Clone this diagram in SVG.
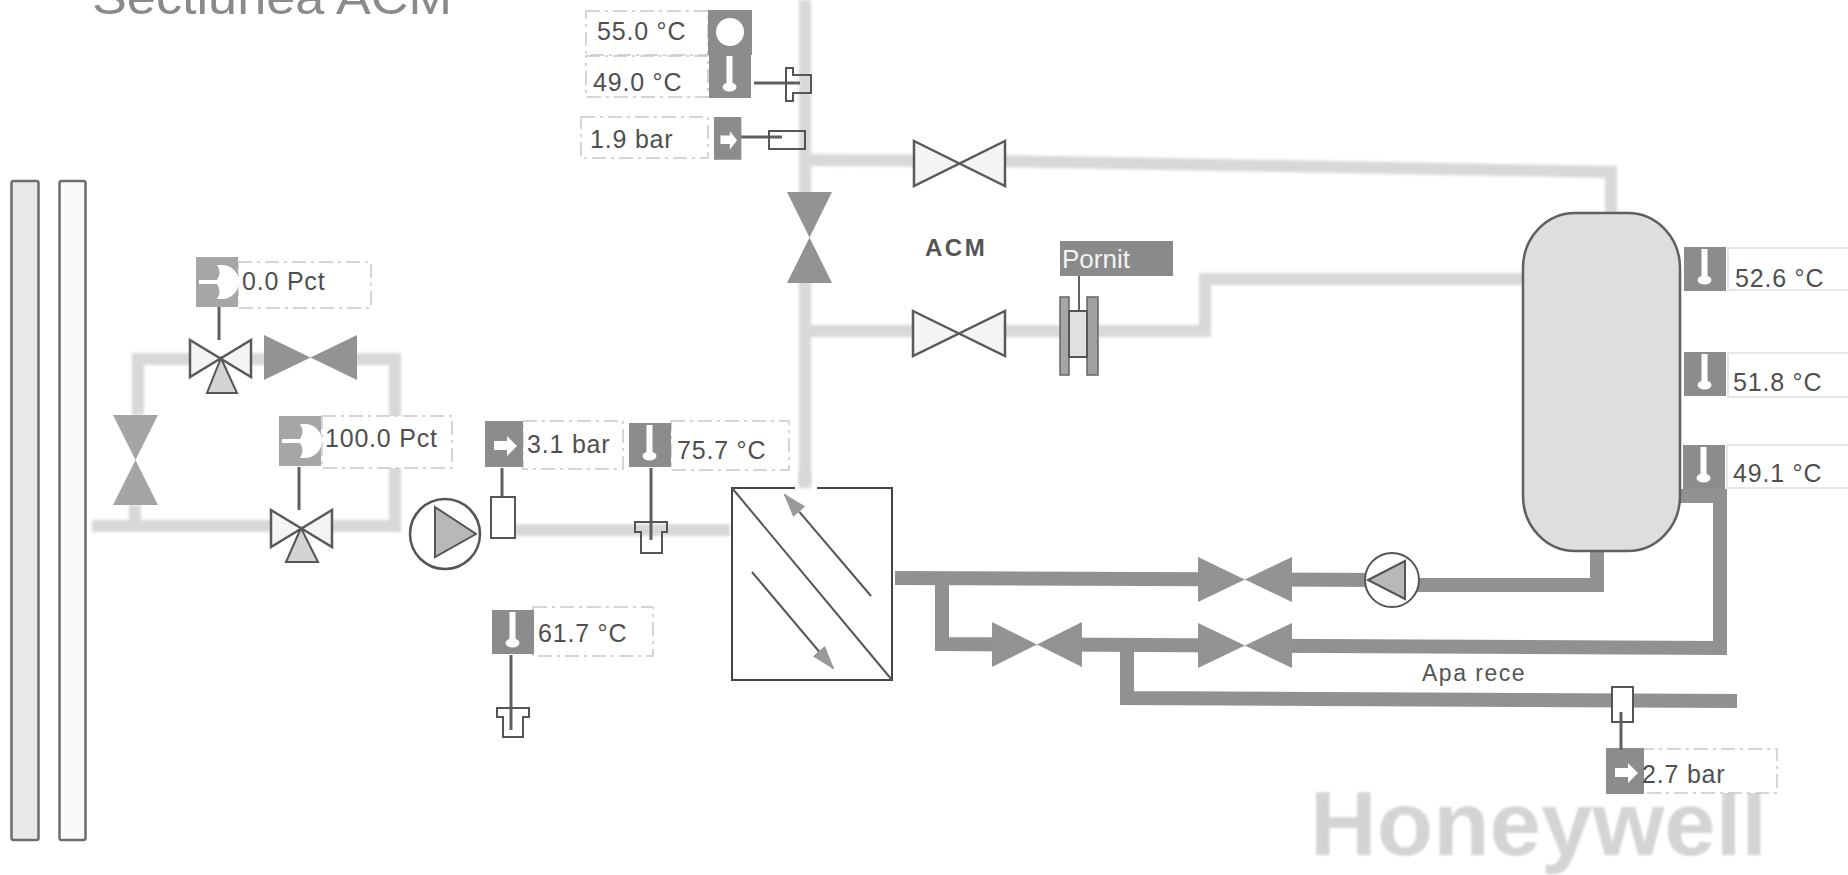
<svg xmlns="http://www.w3.org/2000/svg" width="1848" height="875" viewBox="0 0 1848 875">
<style>
text{font-family:"Liberation Sans",Arial,sans-serif}
.val{font-size:25px;fill:#4f4f4f;letter-spacing:.8px}
.box{fill:#fff;stroke:#c8c8c8;stroke-width:1.500;stroke-dasharray:14 5 3 5}
.lp{fill:none;stroke:#d8d8d8;stroke-width:12;filter:url(#soft)}
.dp{fill:none;stroke:#919191;stroke-width:14;filter:url(#soft1)}
.ol{fill:none;stroke:#555;stroke-width:2}
.olv{fill:#f4f4f4;stroke:#5a5a5a;stroke-width:2.500}
.dv{fill:#939393}
.mv{fill:#a4a4a4}
.bg{fill:#fff}
.wire{fill:none;stroke:#606060;stroke-width:3}
.ic{fill:#8c8c8c}
.icw{fill:#fff}
</style>
<defs>
<filter id="soft" filterUnits="userSpaceOnUse" x="0" y="0" width="1848" height="875"><feGaussianBlur stdDeviation="1.6"/></filter>
<filter id="soft1" filterUnits="userSpaceOnUse" x="0" y="0" width="1848" height="875"><feGaussianBlur stdDeviation="0.7"/></filter>
<filter id="soft2" filterUnits="userSpaceOnUse" x="0" y="0" width="1848" height="875"><feGaussianBlur stdDeviation="1.2"/></filter>
<g id="thermo"><rect class="ic" width="42" height="44"/><rect class="icw" x="17.500" y="2" width="6" height="30"/><ellipse class="icw" cx="20.500" cy="33" rx="7" ry="4.500"/></g>
<g id="press"><rect class="ic" width="38" height="46"/><path class="icw" d="M32 25 L22 15 L22 20 L9 20 L9 29 L22 29 L22 35 Z"/></g>
<g id="pct"><rect fill="#a6a6a6" width="42" height="50"/><path class="icw" d="M3 23 H21 A12 13 0 0 0 21 8 H26 A17 17 0 0 1 26 42 H21 A12 13 0 0 0 21 27 H3 Z"/></g>
<marker id="gh" markerWidth="24" markerHeight="16" refX="22" refY="8" orient="auto" markerUnits="userSpaceOnUse"><path d="M0 0 L24 8 L0 16 Z" fill="#9a9a9a"/></marker>
</defs>

<rect width="1848" height="875" fill="#fff"/>
<text x="92" y="14" font-size="48" fill="#8a8a8a" textLength="360" lengthAdjust="spacingAndGlyphs">Sectiunea ACM</text>

<g id="connectors">
<path class="lp" d="M805 0 V488"/>
<path class="lp" d="M805 160 L1000 161 L1611 172 V215"/>
<path class="lp" d="M805 331 H1205 V279 H1525"/>
<path class="lp" d="M92 526 H395 V359 H138 V415"/>
<path class="lp" d="M135 505 V526"/>
<path class="lp" d="M515 530 H730"/>
<path class="dp" d="M895 578 L1390 580"/>
<path class="dp" d="M1400 585 H1597 V551"/>
<path class="dp" d="M942 578 V644 L1720 648 V496 H1680"/>
<path class="dp" d="M1127 645 V698 L1737 701"/>
<path class="wire" d="M754 83 H800"/>
<path class="wire" d="M741 137 H782"/>
<path class="wire" d="M219 307 V358"/>
<path class="wire" d="M299 467 V524"/>
<path class="wire" d="M502 468 V510"/>
<path class="wire" d="M651 468 V540"/>
<path class="wire" d="M511 655 V730"/>
<path d="M1079 276 V311" fill="none" stroke="#606060" stroke-width="2"/>
</g>

<g id="strip-1"><rect x="11.500" y="181" width="27" height="659" rx="2" fill="#e9e9e9" stroke="#6e6e6e" stroke-width="2.500"/></g>
<g id="strip-2"><rect x="59.500" y="181" width="26" height="659" rx="2" fill="#fafafa" stroke="#6e6e6e" stroke-width="2.500"/></g>

<g id="t-55"><rect class="box" x="586" y="11" width="122" height="44"/><text class="val" x="597" y="40">55.0 °C</text><rect class="ic" x="708" y="10" width="44" height="45"/><circle class="icw" cx="730" cy="32" r="14"/></g>
<g id="t-49"><rect class="box" x="586" y="56" width="122" height="41"/><text class="val" x="593" y="91">49.0 °C</text><use href="#thermo" x="709" y="54"/><path class="ol" d="M786 68 H793 V75 H811 V93 H793 V101 H786 Z"/></g>
<g id="p-19"><rect class="box" x="581" y="117" width="127" height="41"/><text class="val" x="590" y="148">1.9 bar</text><use href="#press" transform="translate(714 117) scale(.72 .93)"/><rect x="769" y="131" width="36" height="18" fill="none" stroke="#555" stroke-width="2"/></g>

<g id="v-top"><rect class="bg" x="914" y="141" width="91" height="45"/><path class="olv" d="M914 141 L1005 186 V141 L914 186 Z"/></g>
<g id="v-vert"><rect class="bg" x="787" y="192" width="45" height="91"/><path class="dv" d="M787 192 H832 L787 283 H832 Z"/></g>
<g id="v-lower"><rect class="bg" x="913" y="311" width="92" height="45"/><path class="olv" d="M913 311 L1005 356 V311 L913 356 Z"/></g>

<g id="acm-label"><text x="925" y="256" font-size="24" font-weight="bold" fill="#555" letter-spacing="2.500">ACM</text></g>

<g id="pornit"><rect x="1060" y="241" width="113" height="35" fill="#8a8a8a"/><text x="1062" y="268" font-size="26" fill="#f2f2f2">Pornit</text>
<rect x="1060" y="297" width="9" height="78" fill="#a6a6a6" stroke="#666" stroke-width="1.500"/><rect x="1087" y="297" width="11" height="78" fill="#a0a0a0" stroke="#666" stroke-width="1.500"/><rect x="1069" y="311" width="18" height="46" fill="#e0e0e0" stroke="#555" stroke-width="2"/></g>

<g id="tank"><rect x="1523" y="213" width="157" height="338" rx="52" ry="55" fill="#dedede" stroke="#606060" stroke-width="2.500"/></g>
<g id="t-526"><rect x="1728" y="248" width="125" height="42" fill="#fff" stroke="#dedede" stroke-width="1.500"/><use href="#thermo" x="1684" y="247"/><text class="val" x="1735" y="287">52.6 °C</text></g>
<g id="t-518"><rect x="1728" y="353" width="125" height="44" fill="#fff" stroke="#dedede" stroke-width="1.500"/><use href="#thermo" x="1684" y="352"/><text class="val" x="1733" y="391">51.8 °C</text></g>
<g id="t-491"><rect x="1727" y="445" width="125" height="43" fill="#fff" stroke="#dedede" stroke-width="1.500"/><use href="#thermo" x="1683" y="445"/><text class="val" x="1733" y="482">49.1 °C</text></g>

<g id="v-left-top"><rect class="bg" x="190" y="340" width="61" height="37"/><path class="olv" d="M190 340 L251 377 V340 L190 377 Z"/><path d="M221 358 L207 393 H237 Z" fill="#d4d4d4" stroke="#555" stroke-width="2"/></g>
<g id="v-dark-top"><rect class="bg" x="264" y="335" width="93" height="45"/><path class="dv" d="M264 335 L357 380 V335 L264 380 Z"/></g>
<g id="v-left-vert"><rect class="bg" x="113" y="415" width="45" height="90"/><path class="mv" d="M113 415 H158 L113 505 H158 Z"/></g>
<g id="v-left-low"><rect class="bg" x="271" y="510" width="61" height="37"/><path class="olv" d="M271 510 L332 547 V510 L271 547 Z"/><path d="M301 528 L286 562 H318 Z" fill="#d4d4d4" stroke="#555" stroke-width="2"/></g>
<g id="pct-0"><rect class="box" x="238" y="262" width="133" height="46"/><use href="#pct" x="196" y="257"/><text class="val" x="242" y="290">0.0 Pct</text></g>
<g id="pct-100"><rect class="box" x="322" y="416" width="130" height="52"/><use href="#pct" x="279" y="416"/><text class="val" x="325" y="447">100.0 Pct</text></g>

<g id="pump-1"><circle cx="445" cy="534" r="35" fill="#fff" stroke="#555" stroke-width="2.500"/><path d="M435 507 L476 534 L435 557 Z" fill="#b8b8b8" stroke="#555" stroke-width="2"/></g>

<g id="p-31"><rect class="box" x="523" y="421" width="100" height="48"/><use href="#press" x="485" y="421"/><text class="val" x="527" y="453">3.1 bar</text><rect x="491" y="497" width="24" height="41" fill="#fff" stroke="#555" stroke-width="2"/></g>
<g id="t-757"><rect class="box" x="671" y="421" width="118" height="49"/><use href="#thermo" x="629" y="423"/><text class="val" x="677" y="459">75.7 °C</text><path d="M635 522 H667 V532 H662 V553 H641 V532 H635 Z" fill="none" stroke="#555" stroke-width="2"/></g>
<g id="t-617"><rect class="box" x="533" y="607" width="120" height="49"/><use href="#thermo" x="492" y="610"/><text class="val" x="538" y="642">61.7 °C</text><path d="M497 708 H529 V717 H523 V737 H503 V717 H497 Z" fill="none" stroke="#555" stroke-width="2"/></g>

<g id="exchanger"><rect x="732" y="488" width="160" height="192" fill="#fff" stroke="#444" stroke-width="2"/>
<path d="M732 488 L892 680" fill="none" stroke="#555" stroke-width="2"/>
<path d="M871 596 L785 495" fill="none" stroke="#555" stroke-width="2" marker-end="url(#gh)"/>
<path d="M752 572 L833 668" fill="none" stroke="#555" stroke-width="2" marker-end="url(#gh)"/></g>
<rect x="795" y="484" width="22" height="6" fill="#fff"/>
<path class="lp" d="M805 470 V488"/>

<g id="v-r1"><rect class="bg" x="1198" y="557" width="94" height="45"/><path class="dv" d="M1198 557 L1292 602 V557 L1198 602 Z"/></g>
<g id="v-r2"><rect class="bg" x="992" y="622" width="90" height="45"/><path class="dv" d="M992 622 L1082 667 V622 L992 667 Z"/></g>
<g id="v-r3"><rect class="bg" x="1198" y="623" width="94" height="45"/><path class="dv" d="M1198 623 L1292 668 V623 L1198 668 Z"/></g>
<g id="pump-2"><circle cx="1392" cy="580" r="27" fill="#fff" stroke="#555" stroke-width="2"/><path d="M1368 580 L1405 561 V599 Z" fill="#b8b8b8" stroke="#555" stroke-width="2"/></g>

<g id="apa-rece"><text x="1422" y="681" font-size="23" fill="#555" letter-spacing="1.500">Apa rece</text></g>
<g id="honeywell"><text x="1310" y="855" font-size="90" font-weight="bold" fill="#d4d4d4" textLength="457" lengthAdjust="spacingAndGlyphs" filter="url(#soft2)">Honeywell</text></g>
<g id="p-27"><rect class="box" x="1640" y="749" width="137" height="44"/><use href="#press" x="1606" y="748"/><text class="val" x="1642" y="783">2.7 bar</text><rect x="1612" y="687" width="21" height="35" fill="#fff" stroke="#555" stroke-width="2"/><path class="wire" d="M1621 712 V750"/></g>
</svg>
